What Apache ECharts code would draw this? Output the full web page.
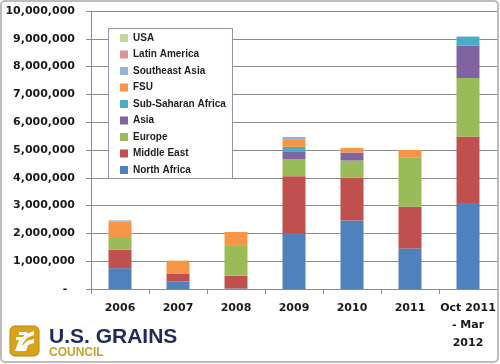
<!DOCTYPE html>
<html>
<head>
<meta charset="utf-8">
<script src="https://cdn.jsdelivr.net/npm/echarts@6/dist/echarts.min.js"></script>
<style>html,body{margin:0;padding:0;background:#fff;}#c{width:500px;height:364px;}</style>
</head>
<body>
<div id="c"></div>
<script>
const categories = ['2006', '2007', '2008', '2009', '2010', '2011', 'Oct 2011\n- Mar\n2012'];
const northAfrica = [750000, 270000, 20000, 2000000, 2460000, 1460000, 3090000];
const middleEast = [660000, 290000, 460000, 2060000, 1550000, 1500000, 2400000];
const europe = [460000, 0, 1070000, 600000, 610000, 1780000, 2100000];
const asia = [0, 0, 0, 270000, 290000, 0, 1170000];
const subSaharanAfrica = [0, 0, 0, 180000, 0, 0, 320000];
const fsu = [560000, 460000, 500000, 280000, 160000, 260000, 0];
const southeastAsia = [40000, 0, 0, 80000, 0, 0, 0];
const latinAmerica = [0, 0, 0, 0, 0, 0, 0];
const usa = [0, 0, 0, 0, 0, 0, 0];
const yTicks = { min: 0, max: 10000000, interval: 1000000 };

const seriesDefs = [
  ['North Africa', northAfrica, '#4F81BD'],
  ['Middle East', middleEast, '#C0504D'],
  ['Europe', europe, '#9BBB59'],
  ['Asia', asia, '#8064A2'],
  ['Sub-Saharan Africa', subSaharanAfrica, '#4BACC6'],
  ['FSU', fsu, '#F79646'],
  ['Southeast Asia', southeastAsia, '#95B3D7'],
  ['Latin America', latinAmerica, '#D99694'],
  ['USA', usa, '#C3D69B']
];

const chart = echarts.init(document.getElementById('c'), null, { renderer: 'canvas' });
const fmt = v => v === 0 ? '-  ' : v.toLocaleString('en-US');

chart.setOption({
  animation: false,
  backgroundColor: '#ffffff',
  grid: { left: 91, right: 3, top: 11, bottom: 75, containLabel: false },
  legend: {
    orient: 'vertical',
    left: 120, top: 32,
    padding: 0,
    itemWidth: 8, itemHeight: 8, itemGap: 4.5,
    icon: 'rect',
    z: 5,
    data: seriesDefs.map(d => d[0]).reverse(),
    textStyle: { fontFamily: 'Liberation Sans', fontWeight: 'bold', fontSize: 10, color: '#1f1f1f', lineHeight: 12 }
  },
  xAxis: {
    type: 'category',
    data: categories,
    axisLine: { show: true, lineStyle: { color: '#8c8c8c', width: 1 } },
    axisTick: { show: true, length: 5, lineStyle: { color: '#8c8c8c' } },
    axisLabel: { margin: 10, fontFamily: 'DejaVu Sans', fontWeight: 'bold', fontSize: 11, color: '#1a1a1a', lineHeight: 17.5, interval: 0 }
  },
  yAxis: {
    type: 'value',
    min: yTicks.min, max: yTicks.max, interval: yTicks.interval,
    axisLine: { show: true, lineStyle: { color: '#8c8c8c', width: 1 } },
    axisTick: { show: true, length: 5, lineStyle: { color: '#8c8c8c' } },
    splitLine: { show: true, lineStyle: { color: '#8c8c8c', width: 1 } },
    axisLabel: { margin: 16, formatter: fmt, fontFamily: 'DejaVu Sans', fontWeight: 'bold', fontSize: 11, color: '#1a1a1a' }
  },
  series: seriesDefs.map(([name, data, color]) => ({
    name, type: 'bar', stack: 'total', data, barWidth: 23,
    itemStyle: { color },
    emphasis: { disabled: true }
  })),
  graphic: [
    { type: 'rect', z: 3, shape: { x: 108.5, y: 28.5, width: 124, height: 150 },
      style: { fill: '#ffffff', stroke: '#8c96a0', lineWidth: 1 } },
    { type: 'rect', z: 10, shape: { x: 1, y: 1, width: 497, height: 361, r: 4 },
      style: { fill: 'none', stroke: '#bdbdbd', lineWidth: 2 } },
    { type: 'rect', z: 10, shape: { x: 10, y: 326, width: 29, height: 30, r: 5 },
      style: { fill: '#D9A21B', stroke: '#b8860b', lineWidth: 1 } },
    { type: 'polygon', z: 11, shape: { points: [[15, 351], [19, 340], [26, 334], [34, 331], [34, 335], [27, 338], [23, 343], [22, 346], [27, 341], [34, 339], [34, 343], [28, 345], [26, 351]] },
      style: { fill: '#ffffff' } },
    { type: 'rect', z: 11, shape: { x: 19, y: 332, width: 8, height: 3 }, style: { fill: '#ffffff' } },
    { type: 'rect', z: 11, shape: { x: 16, y: 337, width: 6, height: 3 }, style: { fill: '#ffffff' } },
    { type: 'text', z: 11, left: 49, top: 327,
      style: { text: 'U.S. GRAINS', font: 'bold 21px "Liberation Sans"', fill: '#1f2a5c' } },
    { type: 'text', z: 11, left: 49, top: 347,
      style: { text: 'COUNCIL', font: 'bold 12px "Liberation Sans"', fill: '#C9A227' } }
  ]
});
</script>
</body>
</html>
